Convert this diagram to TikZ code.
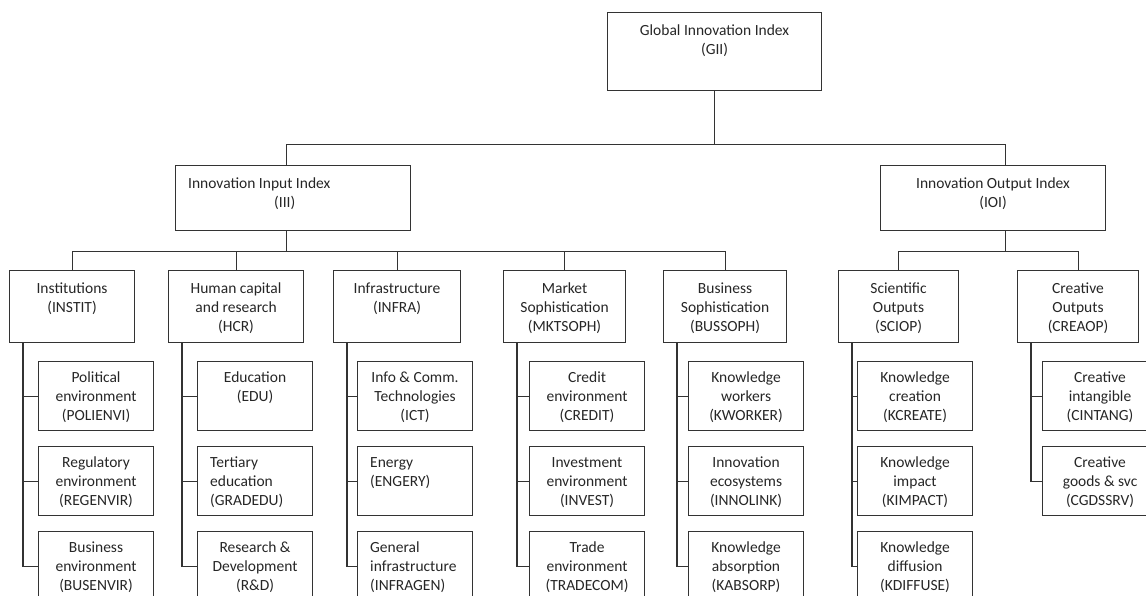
\documentclass[tikz,border=0pt]{standalone}
\usepackage{fontspec}
\setmainfont{Carlito}
\usetikzlibrary{positioning}

\begin{document}
\begin{tikzpicture}[
  x=1pt, y=-1pt,
  every node/.style={font=\fontsize{15.5}{19}\selectfont, text=black!85},
  box/.style={draw=black!80, line width=1.1pt, inner sep=0pt, anchor=north west},
  topbox/.style={box, minimum width=214pt, minimum height=78pt},
  idxbox/.style={box, minimum width=225pt, minimum height=65pt},
  catbox/.style={box, minimum width=#1, minimum height=72pt},
  subbox/.style={box, minimum width=115pt, minimum height=69pt},
  captxt/.style={anchor=north, align=center, inner sep=0pt, yshift=-13pt,
                 execute at begin node=\strut},
  captxtl/.style={anchor=north west, align=left, inner sep=0pt, xshift=13pt,
                  yshift=-13pt, execute at begin node=\strut},
  txt/.style={label={[captxt]north:{#1}}},
  txtl/.style={label={[captxtl]north west:{#1}}},
  stxt/.style={label={[captxt, yshift=2pt]north:{#1}}},
  stxtl/.style={label={[captxtl, yshift=2pt]north west:{#1}}},
  link/.style={draw=black!80, line width=1.1pt},
]
\useasboundingbox (0,0) rectangle (1146,595);
\clip (0,0) rectangle (1146,595);

% index levels
\node[topbox, txt={Global Innovation Index\\(GII)}] (gii) at (607,12) {};
\node[idxbox, minimum width=235pt,
      txtl={Innovation Input Index\\\hspace*{86pt}(III)}] (iii) at (175,165) {};
\node[idxbox, txt={Innovation Output Index\\(IOI)}] (ioi) at (880,165) {};

% pillars
\node[catbox=125pt, txt={Institutions\\(INSTIT)}]                (instit)  at (9,270)    {};
\node[catbox=135pt, txt={Human capital\\and research\\(HCR)}]    (hcr)     at (168,270)  {};
\node[catbox=127pt, txt={Infrastructure\\(INFRA)}]               (infra)   at (333,270)  {};
\node[catbox=122pt, txt={Market\\Sophistication\\(MKTSOPH)}]     (mktsoph) at (503,270)  {};
\node[catbox=123pt, txt={Business\\Sophistication\\(BUSSOPH)}]   (bussoph) at (663,270)  {};
\node[catbox=120pt, txt={Scientific\\Outputs\\(SCIOP)}]          (sciop)   at (838,270)  {};
\node[catbox=121pt, txt={Creative\\Outputs\\(CREAOP)}]           (creaop)  at (1017,270) {};

% sub-pillars
\node[subbox, stxt={Political\\environment\\(POLIENVI)}]   (polienvi) at (38,361) {};
\node[subbox, stxt={Regulatory\\environment\\(REGENVIR)}]  (regenvir) at (38,446) {};
\node[subbox, stxt={Business\\environment\\(BUSENVIR)}]    (busenvir) at (38,531) {};

\node[subbox, stxt={Education\\(EDU)}]                     (edu)      at (197,361) {};
\node[subbox, stxtl={Tertiary\\education\\(GRADEDU)}]      (gradedu)  at (197,446) {};
\node[subbox, stxt={Research \&\\Development\\(R\&D)}]     (rnd)      at (197,531) {};

\node[subbox, stxt={Info \& Comm.\\Technologies\\(ICT)}]   (ict)      at (357,361) {};
\node[subbox, stxtl={Energy\\(ENGERY)}]                    (engery)   at (357,446) {};
\node[subbox, stxtl={General\\infrastructure\\(INFRAGEN)}] (infragen) at (357,531) {};

\node[subbox, stxt={Credit\\environment\\(CREDIT)}]        (credit)   at (529,361) {};
\node[subbox, stxt={Investment\\environment\\(INVEST)}]    (invest)   at (529,446) {};
\node[subbox, stxt={Trade\\environment\\(TRADECOM)}]       (tradecom) at (529,531) {};

\node[subbox, stxt={Knowledge\\workers\\(KWORKER)}]        (kworker)  at (688,361) {};
\node[subbox, stxt={Innovation\\ecosystems\\(INNOLINK)}]   (innolink) at (688,446) {};
\node[subbox, stxt={Knowledge\\absorption\\(KABSORP)}]     (kabsorp)  at (688,531) {};

\node[subbox, stxt={Knowledge\\creation\\(KCREATE)}]       (kcreate)  at (857,361) {};
\node[subbox, stxt={Knowledge\\impact\\(KIMPACT)}]         (kimpact)  at (857,446) {};
\node[subbox, stxt={Knowledge\\diffusion\\(KDIFFUSE)}]     (kdiffuse) at (857,531) {};

\node[subbox, stxt={Creative\\intangible\\(CINTANG)}]      (cintang)  at (1042,361) {};
\node[subbox, stxt={Creative\\goods \& svc\\(CGDSSRV)}]    (cgdssrv)  at (1042,446) {};

% tree lines
\draw[link] (gii.south) -- ++(0,53) coordinate (hub);
\draw[link] ([xshift=-7pt]iii.north) |- (hub) -| ([xshift=12pt]ioi.north);
\draw[link] ([xshift=-7pt]iii.south) -- ++(0,20) coordinate (inbar);
\draw[link] ([xshift=12pt]ioi.south) -- ++(0,20) coordinate (outbar);
\foreach \p in {instit,hcr,infra,mktsoph,bussoph}
  \draw[link] (\p.north) |- (inbar);
\foreach \p in {sciop,creaop}
  \draw[link] (\p.north) |- (outbar);
\foreach \p/\s in {instit/polienvi, instit/regenvir, instit/busenvir,
                   hcr/edu, hcr/gradedu, hcr/rnd,
                   infra/ict, infra/engery, infra/infragen,
                   mktsoph/credit, mktsoph/invest, mktsoph/tradecom,
                   bussoph/kworker, bussoph/innolink, bussoph/kabsorp,
                   sciop/kcreate, sciop/kimpact, sciop/kdiffuse,
                   creaop/cintang, creaop/cgdssrv}
  \draw[link] ([xshift=14pt]\p.south west) |- (\s.west);
\end{tikzpicture}
\end{document}
